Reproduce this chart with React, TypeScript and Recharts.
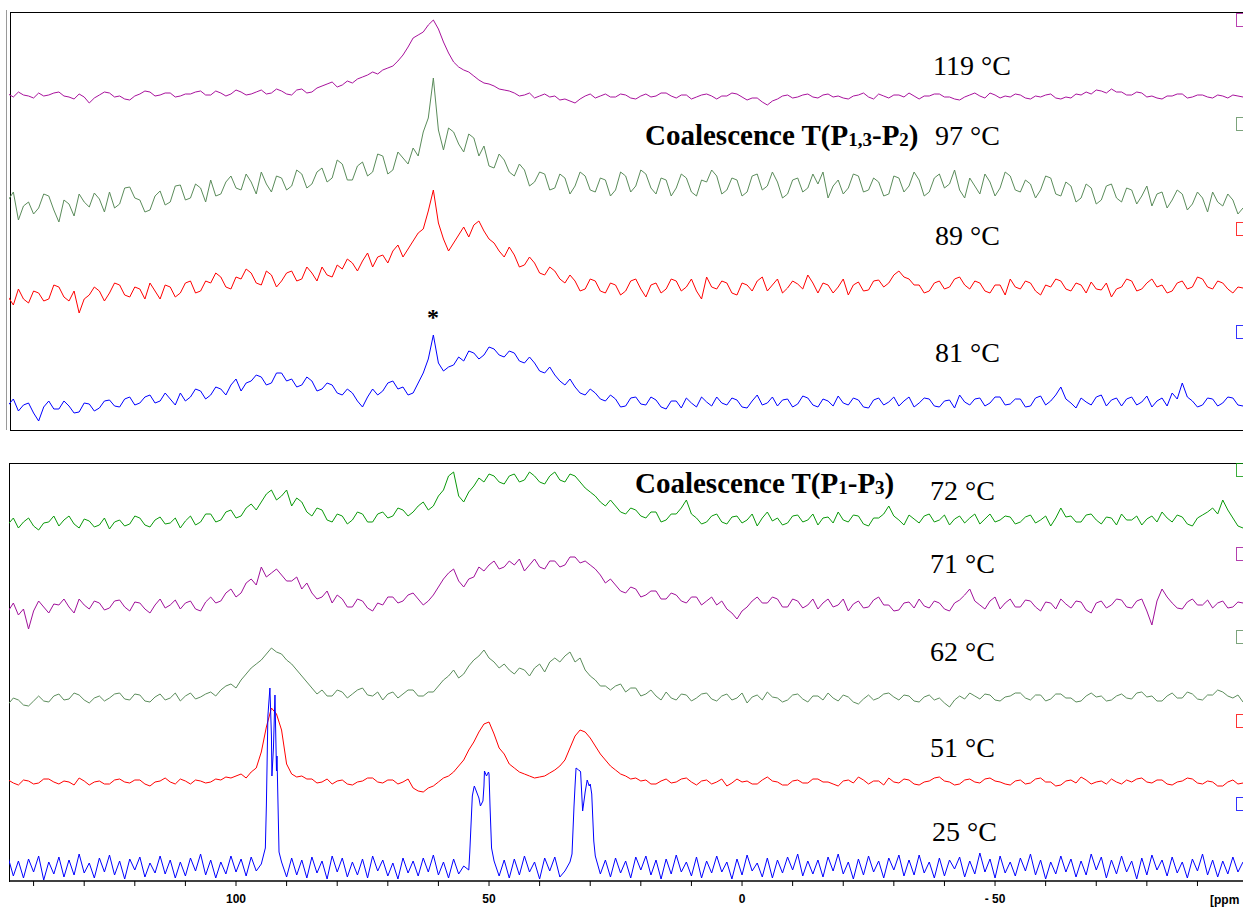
import React from 'react';
import { LineChart, Line, XAxis, YAxis } from 'recharts';

// every spectrum is sampled on the same grid: 145 ppm down to -99 ppm, 1 ppm apart
const PPM_START = 145;
const PPM_STEP = 1;

// intensities, in px above each trace's own baseline (20 values per row)
const T119 = [
  3, 0, 5, 2, 1, -1, 4, 1, 2, 4, 5, 1, 0, -2, 3, 0, -6, -1, 2, 5,
  4, 0, 1, -2, -3, 1, 3, 6, 5, 1, 2, 4, 4, 0, 1, 3, 3, 5, 6, 2,
  2, 6, 4, 1, 3, 7, 5, 2, 3, 5, 7, 3, 4, 8, 6, 3, 2, 7, 8, 4,
  5, 9, 11, 13, 15, 10, 12, 16, 14, 18, 20, 22, 25, 23, 27, 29, 31, 36, 42, 50,
  59, 62, 65, 72, 77, 68, 55, 44, 35, 30, 27, 25, 21, 17, 14, 13, 11, 8, 7, 6,
  4, 1, 2, 4, -1, 1, 3, 0, 1, -3, -2, -4, -6, -2, 1, 3, -1, 1, 3, 0,
  0, 3, 2, -1, -2, 1, 3, 0, 1, 4, 4, 1, -1, 2, 2, -2, 0, 2, 3, 1,
  -2, 1, 1, 4, 3, 0, -3, -1, -1, -5, -8, -4, -2, 1, 2, -1, 0, 2, 3, 0,
  -1, 2, 3, 0, 1, -1, -2, 1, 2, 4, 0, -2, 3, 1, -1, 2, 2, 0, 4, 1,
  -2, 1, 1, 3, 3, 0, 0, -2, -3, 0, 2, 4, 1, -1, 4, 2, -1, 1, 0, 3,
  2, -1, -2, 1, 0, 2, 3, -1, -2, 0, -1, 3, 2, 5, 3, 7, 6, 4, 8, 5,
  5, 2, 2, 5, 4, 0, 1, -1, -2, 1, 1, 3, 3, -1, 0, 2, 2, 0, -1, 2,
  1, -1, 2, 1, 0,
];
const T97 = [
  -10, -2, -30, -16, -12, -24, -18, -4, -6, -20, -32, -10, -14, -26, -4, -12, -17, -3, -9, -22,
  -2, -18, -14, 2, 3, -8, -10, -22, -20, -6, -1, -15, -12, 4, 5, -10, -8, 6, 2, -12,
  10, -6, -4, 8, 14, 2, 0, 16, 8, -4, 18, 6, -2, 14, 12, 0, 4, 20, 16, 2,
  6, 18, 22, 8, 12, 30, 26, 10, 10, 24, 28, 14, 18, 36, 34, 16, 20, 38, 32, 26,
  42, 34, 58, 72, 112, 60, 40, 62, 58, 46, 38, 56, 52, 34, 44, 24, 22, 36, 30, 18,
  14, 26, 20, 4, 8, 18, 16, 0, 2, 16, 12, -4, 4, 18, 14, 0, -2, 12, 10, -6,
  0, 18, 14, -2, 4, 20, 16, 2, -4, 12, 10, -6, 2, 16, 12, -2, -6, 10, 8, 20,
  14, -4, 0, 12, 10, -6, -2, 14, 16, 0, 4, 18, 8, -8, -4, 10, 12, -2, 2, 16,
  6, 18, -8, 4, 10, -4, 2, 16, 14, -2, 0, 12, 8, -6, -4, 14, 12, -2, 4, 18,
  10, -6, -2, 12, 16, 2, 6, 20, 0, -8, 12, 4, -4, 16, 8, -6, 2, 18, 14, 0,
  -2, 10, 6, -8, 0, 14, 12, -4, -6, 8, 4, -12, -8, 6, 2, -14, -10, 4, 6, -8,
  -12, 2, 0, -14, -6, 4, -16, -4, -2, -18, -10, 0, -4, -20, -14, -2, -8, -22, -2, -12,
  -16, -4, -10, -24, -18,
];
const T89 = [
  -10, -18, -2, -12, -16, -4, -6, -14, -12, 2, 0, -10, -14, -4, -26, -12, -8, 0, -4, -14,
  -6, 4, 2, -8, -10, 0, -2, -12, 4, -4, -12, 2, 0, -10, -6, 4, 6, -6, -4, 6,
  4, 14, 10, 0, -2, 10, 8, 18, 14, 4, 2, 16, 12, 0, 6, 14, 16, 6, 8, 20,
  14, 6, 20, 12, 10, 22, 18, 28, 24, 16, 26, 34, 20, 30, 32, 24, 36, 42, 30, 38,
  46, 54, 58, 76, 97, 64, 48, 36, 44, 52, 60, 50, 62, 66, 56, 48, 44, 36, 30, 40,
  32, 20, 22, 30, 24, 14, 12, 20, 16, 8, 4, 12, 6, -4, -2, 8, 6, -4, -6, 4,
  2, -8, -4, 6, 8, -2, -10, 2, 4, -6, -2, 8, 6, -4, 0, 8, -4, -12, 10, 0,
  -2, 6, 4, -6, -8, 4, 2, -4, 6, 10, -4, 2, 8, -6, -1, 6, 3, -2, 12, 4,
  -6, 4, 2, -6, 0, 8, -8, 2, 5, -4, -3, 6, 7, 0, 4, 12, 16, 10, 8, 2,
  2, -6, -4, 4, 6, -2, 0, 8, 10, 2, -2, 6, 4, -4, -6, 2, 2, -8, 8, 0,
  -2, 6, 4, -4, -8, 2, 0, 8, 6, -2, -4, 4, 2, -6, 5, -2, -3, 4, -10, -2,
  0, 8, 6, -4, -2, 4, 8, 0, 2, -6, -4, 4, 6, -2, 0, 10, 8, 0, -2, 6,
  4, -2, -6, 0, -1,
];
const T81 = [
  -2, 4, -8, -2, 0, -10, -18, -4, 2, -6, -6, 2, -3, -10, -9, 0, -1, -8, -5, 2,
  3, -3, -4, 4, 6, -2, 0, 6, 8, 0, 2, 10, 4, -2, 10, 2, 6, 14, 12, 4,
  8, 16, 14, 8, 18, 24, 12, 20, 22, 28, 26, 18, 20, 30, 30, 22, 24, 16, 18, 26,
  22, 12, 14, 20, 18, 10, 8, 14, 10, 2, -4, 6, 14, 8, 12, 20, 22, 14, 16, 8,
  10, 20, 30, 44, 68, 40, 32, 36, 38, 46, 42, 52, 50, 44, 48, 56, 54, 48, 46, 52,
  50, 42, 40, 46, 40, 32, 30, 36, 28, 22, 18, 24, 16, 10, 8, 14, 10, 4, 2, 8,
  4, -4, -3, 5, 6, -1, -2, 6, 3, -4, -6, 2, 2, -5, 5, 0, -4, 6, 1, -3,
  6, 0, -2, 5, 3, -4, -5, 2, 8, -2, 0, 6, -3, 3, 4, -4, -1, 7, 5, -2,
  -4, 4, 2, -3, 7, 0, -2, 5, 3, -4, -5, 3, 5, -2, 1, 6, -3, 2, 6, -4,
  0, 5, 4, -3, -4, 2, 3, -5, 8, 1, -2, 4, 5, -3, 0, 6, 6, -2, -1, 4,
  4, -4, -3, 5, 7, -2, 2, 8, 16, 4, 0, -5, 5, 1, -2, 6, 8, -3, 3, 5,
  -3, 4, 6, -2, 1, 7, -4, 2, 5, -3, 10, 4, 20, 6, 2, -4, -2, 5, 4, -3,
  0, 6, 5, -2, -3,
];
const T72 = [
  -4, 2, -8, -2, 2, -6, -10, -3, -2, 4, -6, 0, 4, -4, -8, 1, -1, -7, -5, 2,
  -9, -2, 0, -6, -4, 4, 2, -5, -7, 0, 3, -4, -3, 2, -8, -1, 4, -5, -2, 6,
  6, -2, 0, 8, 10, 2, 4, 12, 16, 10, 18, 26, 30, 20, 24, 30, 14, 22, 18, 8,
  4, 12, 10, 0, -2, 6, 4, -4, 0, 8, 6, -2, -2, 6, 8, 2, 4, 12, 10, 4,
  8, 14, 18, 10, 14, 24, 30, 44, 48, 24, 18, 28, 34, 42, 38, 46, 44, 38, 36, 44,
  46, 38, 40, 48, 44, 38, 36, 44, 48, 40, 38, 46, 44, 38, 32, 28, 24, 18, 14, 20,
  14, 8, 6, 12, 10, 4, 2, 8, 8, -2, 0, 6, 6, 12, 20, 6, 2, -4, -2, 4,
  6, -2, -4, 3, 4, -3, 0, 6, -6, 2, 8, -1, 2, -5, -3, 4, 5, -2, 0, 6,
  -5, 2, 3, -3, 8, 0, -2, 5, 4, -4, -6, 2, 2, 6, 14, 4, 0, -5, 5, 1,
  -3, 4, 6, -2, 0, 5, -5, 1, 4, -3, 2, 6, -4, 1, 6, -2, 0, 4, 3, -4,
  -2, 3, 5, -3, 0, 4, -6, 2, 12, 3, 4, -2, -2, 5, 6, 0, -4, 3, 2, -5,
  6, 0, 0, 4, -5, 1, 4, -2, 8, 2, -2, 5, 3, -4, -6, 2, 5, 8, 12, 6,
  20, 10, 2, -6, -8,
];
const T71 = [
  -6, 2, -10, -4, -24, -6, 4, -2, -8, 1, 0, 6, -2, -8, 6, 0, -4, 4, 2, -5,
  -3, 4, 5, -2, -6, 3, 2, -4, -8, 0, 6, -3, 0, 5, -4, 2, 4, -4, -6, 3,
  8, 2, 4, 12, 16, 8, 12, 22, 26, 20, 38, 28, 32, 36, 30, 24, 24, 28, 16, 22,
  12, 6, 8, 14, 2, 10, 6, -2, -2, 6, 4, -3, -6, 2, 0, 8, 8, 2, 4, 10,
  12, 6, 0, 4, 10, 18, 26, 32, 36, 24, 18, 26, 28, 38, 34, 40, 44, 36, 38, 44,
  40, 46, 34, 40, 46, 38, 36, 44, 44, 38, 40, 48, 48, 42, 44, 40, 36, 30, 22, 26,
  20, 14, 12, 18, 16, 8, 10, 14, 14, 6, 6, 12, 10, 4, 2, 8, 8, 0, 4, 8,
  0, 4, -4, -8, -14, -6, -2, 4, 8, 2, 2, 8, 6, -2, -2, 6, 4, -3, 0, 6,
  -4, 2, 6, -2, 0, 6, -6, 1, 4, -3, -2, 5, 8, 0, 0, -6, -5, 2, 3, -3,
  6, -1, -3, 4, 2, -4, -6, 2, 5, 10, 16, 4, 0, -4, 4, 8, -4, 2, 6, -2,
  -2, 5, 4, -2, -6, 3, 2, -4, 6, 1, -3, 4, 3, -5, -8, 2, 4, -3, 0, 6,
  5, -2, -3, 4, 6, -6, -20, 4, 16, 8, 2, -3, -4, 3, 6, 0, 0, 5, -3, 2,
  4, -3, -2, 3, 2,
];
const T62 = [
  -6, 0, -2, -7, -8, -3, 2, -3, -4, 2, 4, -2, -1, 5, 3, -2, -5, 0, 2, -3,
  0, 4, 5, -1, -2, 4, 3, -3, -4, 1, 4, -2, 0, 5, -3, 2, 5, -1, 1, 4,
  6, 2, 8, 12, 14, 10, 18, 24, 30, 34, 38, 44, 50, 46, 44, 38, 34, 28, 22, 16,
  10, 4, 8, 2, 2, 8, 6, 0, 4, 8, 10, 3, 2, 6, -2, 4, 6, 0, 4, 8,
  8, 2, 2, 6, 6, 12, 18, 22, 28, 20, 24, 32, 38, 42, 48, 40, 36, 30, 34, 28,
  24, 30, 28, 22, 30, 34, 26, 36, 40, 36, 42, 46, 36, 40, 28, 22, 18, 12, 12, 8,
  12, 14, 6, 10, 10, 2, 4, 8, 2, -2, 6, 0, -2, 4, 3, -3, 0, 4, 5, -1,
  -3, 2, 4, -2, 0, 5, -5, 1, 3, -2, 6, 1, 0, -4, -2, 3, 4, -1, -4, 2,
  2, -2, 5, 0, -3, 3, 1, -4, -6, -1, 3, -2, 0, 4, 5, 1, -2, 3, 2, -3,
  -4, 1, 3, -2, 0, -5, -9, -2, 2, -1, 5, 2, -1, 4, 3, -2, -3, 1, 2, 5,
  5, 0, -2, 3, 3, -3, -1, 4, 4, 0, 0, -4, -3, 2, 5, 1, 2, -3, -2, 2,
  4, 0, -1, 5, 6, 1, 2, -3, -3, 2, 5, 0, 0, 6, 4, -1, -2, 3, 3, 8,
  6, 2, 0, 3, -4,
];
const T51 = [
  2, -1, -3, 2, 1, -2, -1, 3, 3, 0, -2, 1, 0, -3, 4, 1, -3, 0, 1, -2,
  -2, 2, 3, 0, -1, 2, 2, -2, -4, 0, 1, 4, 0, -2, 3, 1, -2, 2, 1, -1,
  0, 3, 2, 5, 4, 6, 8, 4, 10, 14, 30, 55, 74, 68, 52, 18, 8, 5, 6, 3,
  3, -1, 0, 3, -2, 1, 2, -2, -3, 0, 1, 4, 4, 0, -1, 2, 2, -2, 0, 3,
  -6, -9, -10, -6, -4, 0, 4, 6, 10, 16, 22, 32, 40, 50, 58, 60, 48, 34, 28, 18,
  14, 10, 8, 6, 4, 5, 6, 9, 12, 16, 22, 34, 46, 52, 50, 44, 36, 28, 22, 16,
  12, 8, 6, 3, 4, 1, 2, -2, -2, 1, 3, -1, 0, 3, 4, 0, -3, 1, 2, -2,
  0, 3, -4, -1, 3, 0, 1, -2, -2, 2, 5, 1, 0, -3, -3, 1, 2, -1, -1, 3,
  3, 0, 0, -2, -4, 1, 2, -1, 5, 2, -2, 1, 1, -3, 4, 0, -1, 3, 2, -2,
  -3, 0, 1, 4, 5, 1, 0, -3, -2, 2, 3, 0, -1, 3, 4, 1, 0, -2, -3, 1,
  2, -2, -1, 3, 4, 0, 0, -4, -3, 1, 2, -1, 5, 2, -2, 0, 1, -2, 3, 0,
  -2, 2, 0, 3, 4, 0, -1, 2, 2, -2, -3, 0, 1, 4, 3, -1, -2, 1, 0, -4,
  -4, 0, 2, -2, -1,
];
const T25 = [
  8, -10, 5, -12, 7, -6, 10, -14, 4, -8, 9, -11, 6, -9, 12, -7, 3, -12, 8, -6,
  11, -9, 5, -13, 7, -4, 9, -11, 3, -7, 10, -8, 6, -12, 4, -10, 8, -5, 12, -9,
  6, -12, 4, -8, 10, -6, 7, -10, 9, -5, 2, 60, 130, 95, 4, -11, 8, -9, 6, -12,
  9, -7, 5, -13, 10, -6, 8, -11, 4, -9, 7, -12, 10, -5, 6, -10, 3, -13, 8, -7,
  5, -10, 8, -6, 11, -9, 4, -12, 7, -8, 0, -4, 78, 68, 80, 92, 5, -10, 6, -12,
  7, -9, 10, -6, 4, -13, 8, -5, 9, -11, -5, 4, 80, 95, 74, 82, 10, -8, 6, -11,
  8, -7, 5, -12, 9, -4, 10, -9, 6, -13, 7, -8, 11, -6, 4, -10, 9, -12, 5, -7,
  10, -6, 4, -13, 7, -9, 11, -5, 3, -11, 8, -12, 6, -7, 9, -4, 12, -10, 5, -8,
  6, -11, 9, -5, 12, -8, 4, -13, 7, -9, 10, -6, 5, -12, 8, -4, 11, -10, 6, -9,
  11, -7, 4, -12, 8, -10, 6, -3, 9, -11, 5, -8, 13, -6, 7, -12, 10, -7, 4, -10,
  8, -5, 12, -9, 6, -13, 4, -8, 10, -6, 7, -11, 5, -9, 12, -4, 9, -12, 6, -8,
  10, -6, 5, -13, 8, -9, 11, -4, 6, -10, 9, -7, 4, -12, 7, -5, 12, -9, 6, -11,
  5, -8, 9, -6, 4,
];
// the sharp 25 °C multiplets need finer points: [ppm, intensity]
const PEAKS_25: [number, number][] = [
  [94.2, 18], [93.7, 150], [93.3, 178], [92.9, 90], [92.6, 118], [92.3, 171], [91.9, 110], [91.5, 14],
  [53.8, 14], [53.3, 70], [52.9, 80], [52.3, 72], [51.7, 60], [51.2, 65], [50.9, 95], [50.5, 90],
  [50.1, 94], [49.8, 60], [49.5, 18],
  [33.6, 12], [33.2, 60], [32.8, 98], [32.3, 96], [31.9, 94], [31.5, 55], [31.1, 70], [30.6, 86],
  [30.2, 80], [29.7, 72], [29.3, 25],
];

const TICKS = [140, 130, 120, 110, 100, 90, 80, 70, 60, 50, 40, 30, 20, 10, 0,
  -10, -20, -30, -40, -50, -60, -70, -80, -90];

const PLOT_H = 418;
const X_DOMAIN: [number, number] = [-99, 144.86];
const SERIF = "'Liberation Serif', 'Times New Roman', serif";
const SANS = "'Liberation Sans', Arial, sans-serif";

type Trace = {
  id: string;
  label: string;
  values: number[];
  extra?: [number, number][];
  color: string;
  base: number; // baseline height above the panel bottom, px
  labelX: number;
  labelY: number;
  markerY: number;
};

const TOP_TRACES: Trace[] = [
  { id: 't119', label: '119 °C', values: T119, color: '#a8129c', base: 333, labelX: 933, labelY: 75, markerY: 13 },
  { id: 't97', label: '97 °C', values: T97, color: '#5b8c5b', base: 240, labelX: 935, labelY: 145, markerY: 117 },
  { id: 't89', label: '89 °C', values: T89, color: '#ff0000', base: 143, labelX: 935, labelY: 245, markerY: 222 },
  { id: 't81', label: '81 °C', values: T81, color: '#0000ff', base: 27, labelX: 935, labelY: 362, markerY: 325 },
];
const BOTTOM_TRACES: Trace[] = [
  { id: 't72', label: '72 °C', values: T72, color: '#0a990a', base: 361, labelX: 930, labelY: 500, markerY: 463 },
  { id: 't71', label: '71 °C', values: T71, color: '#a0109a', base: 276, labelX: 930, labelY: 573, markerY: 547 },
  { id: 't62', label: '62 °C', values: T62, color: '#5b8c5b', base: 183, labelX: 930, labelY: 661, markerY: 630 },
  { id: 't51', label: '51 °C', values: T51, color: '#ff0000', base: 99, labelX: 930, labelY: 757, markerY: 714 },
  { id: 't25', label: '25 °C', values: T25, extra: PEAKS_25, color: '#0000ff', base: 15, labelX: 932, labelY: 841, markerY: 797 },
];

const buildSeries = (t: Trace) => {
  const pts = t.values.map((v, i) => ({ ppm: PPM_START - i * PPM_STEP, v: v + t.base }));
  (t.extra || []).forEach(([p, v]) => pts.push({ ppm: p, v: v + t.base }));
  return pts.sort((a, b) => b.ppm - a.ppm);
};

const tickLabel = (v: number) => {
  if (v % 50 !== 0) return '';
  return v < 0 ? `- ${-v}` : `${v}`;
};

const Panel: React.FC<{ traces: Trace[]; top: number; showAxis?: boolean }> = ({ traces, top, showAxis }) => (
  <div style={{ position: 'absolute', left: 9, top }}>
    <LineChart width={1234} height={PLOT_H + (showAxis ? 30 : 0)} margin={{ top: 0, right: 0, bottom: 0, left: 0 }}>
      <XAxis
        type="number"
        dataKey="ppm"
        domain={X_DOMAIN}
        reversed
        allowDataOverflow
        hide={!showAxis}
        ticks={TICKS}
        interval={0}
        height={30}
        tickFormatter={tickLabel}
        tickSize={5}
        tickMargin={8}
        axisLine={{ stroke: '#000', strokeWidth: 1.5 }}
        tickLine={{ stroke: '#000' }}
        tick={{ fill: '#000', fontSize: 12, fontWeight: 'bold', fontFamily: SANS }}
      />
      <YAxis type="number" domain={[0, PLOT_H]} hide allowDataOverflow />
      {traces.map((t) => (
        <Line
          key={t.id}
          data={buildSeries(t)}
          dataKey="v"
          type="linear"
          stroke={t.color}
          strokeWidth={1}
          dot={false}
          isAnimationActive={false}
        />
      ))}
    </LineChart>
  </div>
);

const App: React.FC = () => {
  const all = [...TOP_TRACES, ...BOTTOM_TRACES];
  return (
    <div style={{ position: 'absolute', left: 0, top: 0, width: 1243, height: 909, overflow: 'hidden', background: '#fff' }}>
      {/* panel frames */}
      <div style={{ position: 'absolute', left: 6, top: 10, width: 1, height: 420, background: '#9a9a9a' }} />
      <div style={{ position: 'absolute', left: 10, top: 12, width: 1240, height: 419, boxSizing: 'border-box',
        borderTop: '1.5px solid #000', borderLeft: '1.5px solid #000', borderBottom: '1.5px solid #000' }} />
      <div style={{ position: 'absolute', left: 9, top: 463, width: 1240, height: 419, boxSizing: 'border-box',
        borderTop: '1.5px solid #000', borderLeft: '1.5px solid #000' }} />

      <Panel traces={TOP_TRACES} top={12} />
      <Panel traces={BOTTOM_TRACES} top={463} showAxis />

      {/* little trace markers cut off at the right edge */}
      {all.map((t) => (
        <div key={`m-${t.id}`} style={{ position: 'absolute', left: 1236, top: t.markerY, width: 12, height: 14,
          boxSizing: 'border-box', border: `1.5px solid ${t.color}`, opacity: 0.8 }} />
      ))}

      <svg width={1243} height={909} style={{ position: 'absolute', left: 0, top: 0, pointerEvents: 'none' }}>
        {all.map((t) => (
          <text key={`l-${t.id}`} x={t.labelX} y={t.labelY} fontFamily={SERIF} fontSize={28} fill="#000">
            {t.label}
          </text>
        ))}
        <text x={645} y={145} fontFamily={SERIF} fontSize={29} fontWeight="bold" fill="#000">
          Coalescence T(P<tspan fontSize={19} dy={1}>1,3</tspan><tspan dy={-1}>-P</tspan>
          <tspan fontSize={19} dy={1}>2</tspan><tspan dy={-1}>)</tspan>
        </text>
        <text x={635} y={493} fontFamily={SERIF} fontSize={29} fontWeight="bold" fill="#000">
          Coalescence T(P<tspan fontSize={19} dy={1}>1</tspan><tspan dy={-1}>-P</tspan>
          <tspan fontSize={19} dy={1}>3</tspan><tspan dy={-1}>)</tspan>
        </text>
        <text x={433} y={325} textAnchor="middle" fontFamily={SERIF} fontSize={24} fontWeight="bold" fill="#000">*</text>
        <text x={1210} y={904} fontFamily={SANS} fontSize={12} fontWeight="bold" fill="#000">[ppm</text>
      </svg>
    </div>
  );
};

export default App;
